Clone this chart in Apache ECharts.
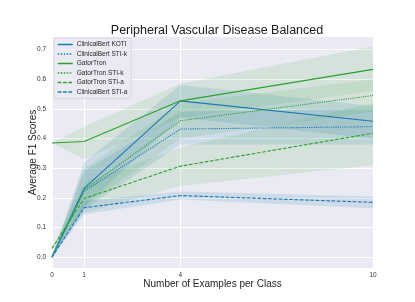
<!DOCTYPE html>
<html>
<head>
<meta charset="utf-8">
<script src="https://cdn.jsdelivr.net/npm/echarts@6/dist/echarts.min.js"></script>
<style>
html,body{margin:0;padding:0;background:#fff;}
#chart{width:415px;height:302px;}
</style>
</head>
<body>
<div id="chart"></div>
<script>
var xValues = [0, 1, 4, 10];
var xTickLabels = [0, 1, 4, 10];
var yTickValues = [0, 0.1, 0.2, 0.3, 0.4, 0.5, 0.6, 0.7];
var seriesNames = ['ClinicalBert KOTI', 'ClinicalBert STI-k', 'GatorTron', 'GatorTron STI-k', 'GatorTron STI-a', 'ClinicalBert STI-a'];

var cbKotiMean = [0.0, 0.232, 0.527, 0.458];
var cbKotiLow  = [0.0, 0.17, 0.47, 0.40];
var cbKotiHigh = [0.0, 0.32, 0.58, 0.51];

var cbStikMean = [0.0, 0.222, 0.432, 0.44];
var cbStikLow  = [0.0, 0.16, 0.38, 0.38];
var cbStikHigh = [0.0, 0.29, 0.49, 0.50];

var gtMean = [0.385, 0.39, 0.527, 0.633];
var gtLow  = [0.385, 0.33, 0.47, 0.56];
var gtHigh = [0.385, 0.44, 0.585, 0.71];

var gtStikMean = [0.005, 0.227, 0.46, 0.545];
var gtStikLow  = [0.0, 0.17, 0.40, 0.49];
var gtStikHigh = [0.01, 0.30, 0.52, 0.60];

var gtStiaMean = [0.03, 0.198, 0.307, 0.418];
var gtStiaLow  = [0.03, 0.15, 0.24, 0.31];
var gtStiaHigh = [0.03, 0.25, 0.37, 0.52];

var cbStiaMean = [0.0, 0.167, 0.208, 0.185];
var cbStiaLow  = [0.0, 0.145, 0.195, 0.165];
var cbStiaHigh = [0.0, 0.19, 0.222, 0.205];

var BLUE = '#1f77b4', GREEN = '#2ca02c';
var specs = [
  {name: seriesNames[0], mean: cbKotiMean, low: cbKotiLow, high: cbKotiHigh, color: BLUE, type: 'solid'},
  {name: seriesNames[1], mean: cbStikMean, low: cbStikLow, high: cbStikHigh, color: BLUE, type: 'dotted'},
  {name: seriesNames[2], mean: gtMean, low: gtLow, high: gtHigh, color: GREEN, type: 'solid'},
  {name: seriesNames[3], mean: gtStikMean, low: gtStikLow, high: gtStikHigh, color: GREEN, type: 'dotted'},
  {name: seriesNames[4], mean: gtStiaMean, low: gtStiaLow, high: gtStiaHigh, color: GREEN, type: [3.7, 1.6]},
  {name: seriesNames[5], mean: cbStiaMean, low: cbStiaLow, high: cbStiaHigh, color: BLUE, type: [3.7, 1.6]}
];

function bandColor(c) {
  return c === BLUE ? 'rgba(31,119,180,0.14)' : 'rgba(44,160,44,0.11)';
}

var series = [];
specs.forEach(function (s, si) {
  var bandData = xValues.map(function (x, i) { return [x, s.low[i], s.high[i]]; });
  series.push({
    type: 'custom',
    name: s.name + ' band',
    silent: true,
    z: 1,
    data: bandData,
    encode: {x: 0, y: [1, 2]},
    renderItem: function (params, api) {
      if (params.dataIndex !== 0) return null;
      var pts = [];
      for (var i = 0; i < bandData.length; i++) pts.push(api.coord([bandData[i][0], bandData[i][2]]));
      for (var j = bandData.length - 1; j >= 0; j--) pts.push(api.coord([bandData[j][0], bandData[j][1]]));
      return {type: 'polygon', shape: {points: pts}, style: {fill: bandColor(s.color)}};
    }
  });
});
specs.forEach(function (s) {
  series.push({
    type: 'line',
    name: s.name,
    z: 5,
    symbol: 'none',
    showSymbol: false,
    color: s.color,
    lineStyle: {color: s.color, width: 1.1, type: s.type},
    data: xValues.map(function (x, i) { return [x, s.mean[i]]; })
  });
});

var chart = echarts.init(document.getElementById('chart'), null, {renderer: 'canvas'});
chart.setOption({
  animation: false,
  backgroundColor: '#ffffff',
  textStyle: {fontFamily: 'Liberation Sans, Arial, sans-serif'},
  title: {
    text: 'Peripheral Vascular Disease Balanced',
    left: 212, top: 19, textAlign: 'center',
    textStyle: {fontSize: 12.5, fontWeight: 'normal', color: '#1a1a1a', fontFamily: 'Liberation Sans, Arial, sans-serif'}
  },
  grid: {left: 52, right: 42, top: 37, bottom: 34, show: true, backgroundColor: '#eaeaf2', borderWidth: 0},
  legend: {
    data: seriesNames,
    orient: 'vertical',
    left: 54, top: 38,
    itemWidth: 15, itemHeight: 6, itemGap: 2.5,
    padding: [3, 4, 3, 3],
    itemStyle: {opacity: 0},
    lineStyle: {width: 1.5},
    backgroundColor: 'rgba(234,234,242,0.8)',
    borderColor: '#d4d4dc', borderWidth: 0.8, borderRadius: 2,
    textStyle: {fontSize: 6.5, color: '#262626', padding: [0, 0, 0, -1]}
  },
  xAxis: {
    type: 'value', min: 0, max: 10,
    name: 'Number of Examples per Class', nameLocation: 'middle', nameGap: 11.5,
    nameMoveOverlap: false,
    nameTextStyle: {fontSize: 10, color: '#262626'},
    axisLine: {show: false}, axisTick: {show: false, customValues: xTickLabels},
    axisLabel: {customValues: xTickLabels, fontSize: 6.5, color: '#333', margin: 4},
    splitLine: {show: true, lineStyle: {color: '#ffffff', width: 1}}
  },
  yAxis: {
    type: 'value', min: -0.036, max: 0.742,
    name: 'Average F1 Scores', nameLocation: 'middle', nameGap: 14, nameRotate: 90,
    nameMoveOverlap: false,
    nameTextStyle: {fontSize: 10, color: '#262626'},
    axisLine: {show: false}, axisTick: {show: false, customValues: yTickValues},
    axisLabel: {customValues: yTickValues, fontSize: 6.5, color: '#333', margin: 6,
      formatter: function (v) { return (Math.round(v * 10) / 10).toFixed(1); }},
    splitLine: {show: true, lineStyle: {color: '#ffffff', width: 1}}
  },
  series: series
});
</script>
</body>
</html>
